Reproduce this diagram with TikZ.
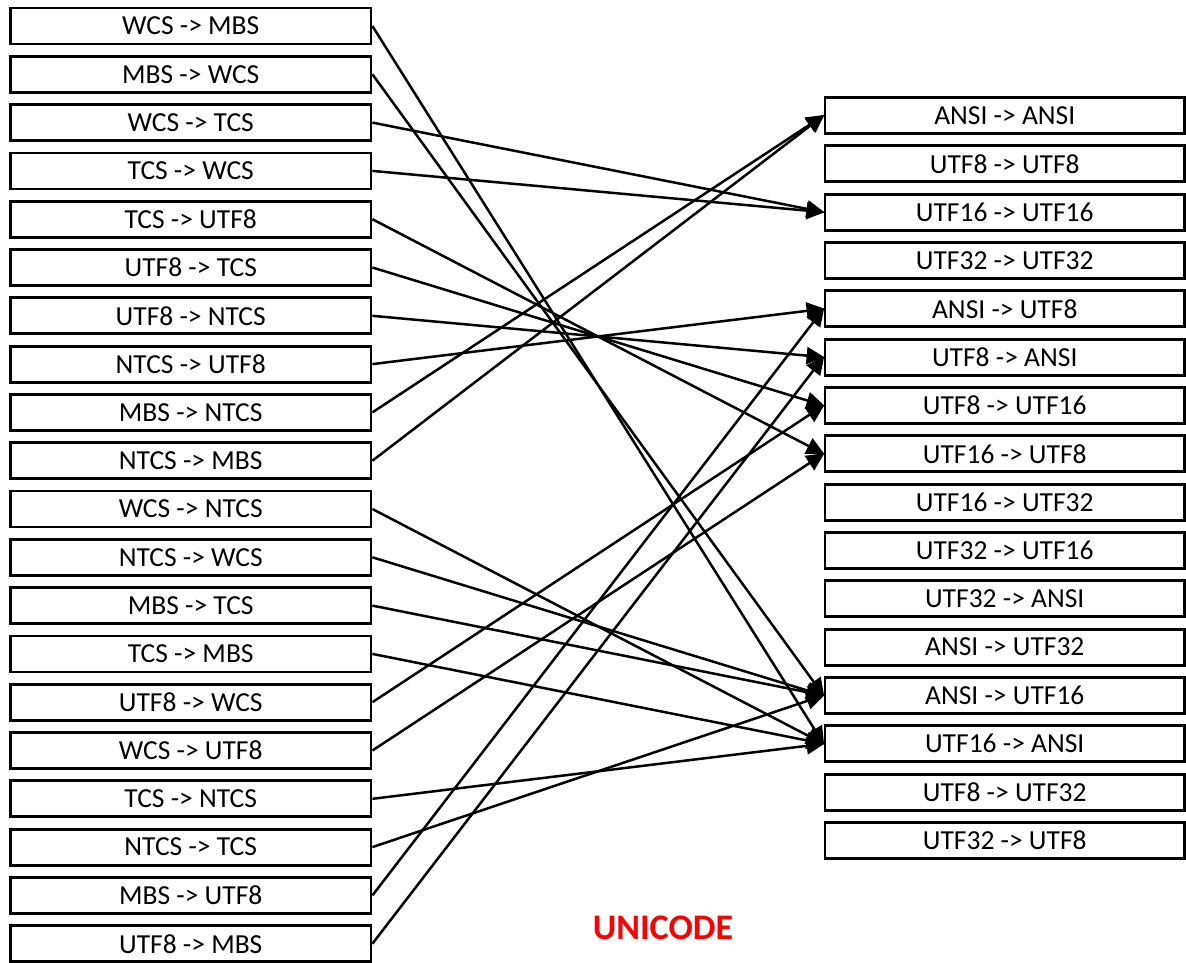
\documentclass[tikz,border=0pt]{standalone}
\usepackage{fontspec}
\setmainfont{Carlito}
\usetikzlibrary{arrows.meta}
\tikzset{
  convbox/.style={draw, line width=2.8pt, inner sep=0pt, minimum height=36pt,
    font=\fontsize{27.5}{30}\selectfont},
  leftbox/.style={convbox, minimum width=360.5pt},
  rightbox/.style={convbox, minimum width=359.5pt},
  link/.style={line width=2.5pt, -{Triangle[length=18pt,width=17pt]}, shorten >=-1pt}
}
\begin{document}
\begin{tikzpicture}[x=1pt,y=-1pt]
\useasboundingbox (0,0) rectangle (1186,962);
% source conversions
\foreach \t [count=\i] in {WCS -> MBS, MBS -> WCS, WCS -> TCS, TCS -> WCS,
  TCS -> UTF8, UTF8 -> TCS, UTF8 -> NTCS, NTCS -> UTF8, MBS -> NTCS, NTCS -> MBS,
  WCS -> NTCS, NTCS -> WCS, MBS -> TCS, TCS -> MBS, UTF8 -> WCS, WCS -> UTF8,
  TCS -> NTCS, NTCS -> TCS, MBS -> UTF8, UTF8 -> MBS}
  \node[leftbox] (L\i) at (190.75, {26+48.3*(\i-1)}) {\t};
% target encodings
\foreach \t [count=\i] in {ANSI -> ANSI, UTF8 -> UTF8, UTF16 -> UTF16, UTF32 -> UTF32,
  ANSI -> UTF8, UTF8 -> ANSI, UTF8 -> UTF16, UTF16 -> UTF8, UTF16 -> UTF32,
  UTF32 -> UTF16, UTF32 -> ANSI, ANSI -> UTF32, ANSI -> UTF16, UTF16 -> ANSI,
  UTF8 -> UTF32, UTF32 -> UTF8}
  \node[rightbox] (R\i) at (1004.75, {115.5+48.33*(\i-1)}) {\t};
% mappings
\foreach \a/\b in {1/14, 2/13, 3/3, 4/3, 5/8, 6/7, 7/6, 8/5, 9/1, 10/1,
  11/14, 12/13, 13/13, 14/14, 15/7, 16/8, 17/14, 18/13, 19/5, 20/6}
  \draw[link] (L\a.east) -- (R\b.west);
\node[text=red, font=\fontsize{36}{38}\selectfont\bfseries] (title) at (663, 928) {UNICODE};
\end{tikzpicture}
\end{document}
